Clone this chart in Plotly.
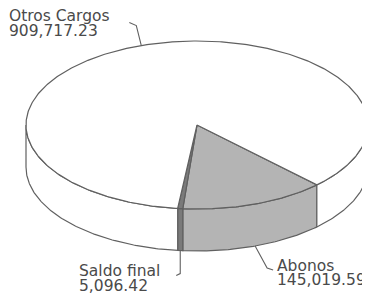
import numpy as np
import plotly.graph_objects as go

# ---- data ----
categories = ["Abonos", "Saldo final", "Otros Cargos"]
values = [145019.59, 5096.42, 909717.23]
value_labels = ["145,019.59", "5,096.42", "909,717.23"]

# ---- style / geometry ----
W, H = 370, 298
OFF = 8                 # page body margin
CX, CY = 197, 125       # centre of top face (px)
RA, RB = 171, 84        # ellipse radii (px)
DEPTH = 42              # pie thickness (px)
START = 45.5            # start angle (deg, clockwise on screen)
fills = {"Abonos": "#b4b4b4", "Saldo final": "#7a7a7a", "Otros Cargos": "#ffffff"}
EDGE = "#606060"
TXT = "#4a4a4a"
FONT = "DejaVu Sans"
FS = 15.5

total = sum(values)
spans = [v / total * 360 for v in values]
bounds = []
a0 = START
for s in spans:
    bounds.append((a0, a0 + s))
    a0 += s


def pt(t, dz=0.0):
    r = np.radians(t)
    return CX + RA * np.cos(r), CY + RB * np.sin(r) + dz


def arc(t0, t1, dz=0.0, n=None):
    n = n or max(3, int(abs(t1 - t0) * 1.5) + 2)
    ts = np.linspace(t0, t1, n)
    xs, ys = pt(ts, dz)
    return list(xs), list(ys)


fig = go.Figure()

# side walls (front half only: 0..180 and 360..540)
for cat, (t0, t1) in zip(categories, bounds):
    for lo, hi in [(0, 180), (360, 540)]:
        s0, s1 = max(t0, lo), min(t1, hi)
        if s1 <= s0:
            continue
        xt, yt = arc(s0, s1)
        xb, yb = arc(s0, s1, DEPTH)
        xs = xt + xb[::-1] + [xt[0]]
        ys = yt + yb[::-1] + [yt[0]]
        fig.add_trace(go.Scatter(x=xs, y=ys, mode="lines", fill="toself",
                                 fillcolor=fills[cat],
                                 line=dict(color=EDGE, width=1.2),
                                 hoverinfo="skip", showlegend=False))

# top faces
for cat, (t0, t1) in zip(categories, bounds):
    xa, ya = arc(t0, t1)
    xs = [CX] + xa + [CX]
    ys = [CY] + ya + [CY]
    fig.add_trace(go.Scatter(x=xs, y=ys, mode="lines", fill="toself",
                             fillcolor=fills[cat],
                             line=dict(color=EDGE, width=1.2),
                             hoverinfo="skip", showlegend=False))

# leader lines + labels
label_cfg = {
    "Otros Cargos": dict(offs=[(-5, -20), (-12, -23)], tx=8, ty=[16, 31]),
    "Saldo final": dict(offs=[(0, 23), (-4, 25)], tx=78, ty=[271, 286]),
    "Abonos": dict(offs=[(12, 22), (18, 24)], tx=276, ty=[266, 280]),
}
for cat, (t0, t1), vl in zip(categories, bounds, value_labels):
    mid = (t0 + t1) / 2
    front = np.sin(np.radians(mid)) > 0
    sx, sy = pt(mid, DEPTH if front else 0)
    cfg = label_cfg[cat]
    lx = [sx] + [sx + dx for dx, dy in cfg["offs"]]
    ly = [sy] + [sy + dy for dx, dy in cfg["offs"]]
    fig.add_trace(go.Scatter(x=lx, y=ly, mode="lines",
                             line=dict(color=EDGE, width=1.1),
                             hoverinfo="skip", showlegend=False))
    for txt, yy in zip([cat, vl], cfg["ty"]):
        fig.add_annotation(x=cfg["tx"], y=yy, text=txt, showarrow=False,
                           xanchor="left", yanchor="middle", borderpad=0,
                           font=dict(family=FONT, size=FS, color=TXT))

fig.update_layout(
    width=W - OFF, height=H - OFF,
    margin=dict(l=0, r=0, t=0, b=0),
    paper_bgcolor="white", plot_bgcolor="white",
    xaxis=dict(range=[OFF, W], visible=False, fixedrange=True),
    yaxis=dict(range=[H, OFF], visible=False, fixedrange=True),
    showlegend=False,
)
fig.write_html("out.html")
